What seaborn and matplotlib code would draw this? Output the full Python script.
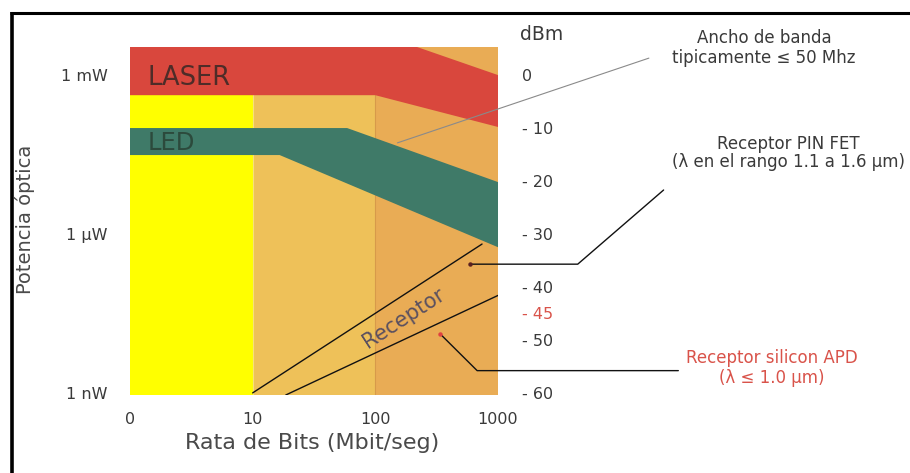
import numpy as np
import pandas as pd
import matplotlib
matplotlib.use("Agg")
import matplotlib.pyplot as plt
from matplotlib.lines import Line2D
import seaborn as sns

# ---------------- data ----------------
x_ticks = [0, 1, 2, 3]
x_ticklabels = ["0", "10", "100", "1000"]
left_ticks = [0, -30, -60]
left_ticklabels = ["1 mW", "1 \u00b5W", "1 nW"]
dbm_ticks = [0, -10, -20, -30, -40, -45, -50, -60]
dbm_ticklabels = ["0", "- 10", "- 20", "- 30", "- 40", "- 45", "- 50", "- 60"]

# region spans (decade index: 0 -> 0, 1 -> 10, 2 -> 100, 3 -> 1000 Mbit/s)
zone_start = [0, 1, 2]
zone_end = [1, 2, 3]
zone_colors = ["#FFFF00", "#EEC159", "#E9AC55"]

laser_top_u = [0, 2.34, 3]
laser_top_dbm = [5.3, 5.3, 0]
laser_bot_u = [0, 2.0, 3]
laser_bot_dbm = [-3.8, -3.8, -9.8]

led_top_u = [0, 1.77, 3]
led_top_dbm = [-10.0, -10.0, -20.2]
led_bot_u = [0, 1.22, 3]
led_bot_dbm = [-15.1, -15.1, -32.5]

rx_pin_u = [1.0, 2.87]
rx_pin_dbm = [-60.0, -31.9]
rx_apd_u = [1.27, 3.0]
rx_apd_dbm = [-60.4, -41.6]

# leader lines (data coords, extending outside the axes)
lead_band_u = [2.18, 4.23]
lead_band_dbm = [-12.8, 3.2]
lead_pin_u = [4.35, 3.65, 2.77]
lead_pin_dbm = [-21.7, -35.7, -35.7]
lead_apd_u = [4.47, 2.83, 2.53]
lead_apd_dbm = [-55.8, -55.8, -48.9]

# ---------------- style ----------------
sns.set_theme(style="white")
plt.rcParams["font.family"] = ["DejaVu Sans"]

W, H = 910, 473
fig = plt.figure(figsize=(W / 100, H / 100), dpi=100)
fig.patch.set_facecolor("white")


def fx(px):
    return px / W


def fy(py):
    return 1 - py / H


ax = fig.add_axes([fx(130), fy(395), fx(498) - fx(130), fy(47) - fy(395)])
ax.set_xlim(0, 3)
ax.set_ylim(-60.4, 5.3)

# background zones
for s, e, c in zip(zone_start, zone_end, zone_colors):
    ax.axvspan(s, e, color=c, lw=0, zorder=0)
ax.axvline(2, color="#D79A4A", lw=0.8, zorder=0.5)
ax.axvline(1, color="#F7E07A", lw=0.8, zorder=0.5)

# LASER band
ax.fill(laser_top_u + laser_bot_u[::-1], laser_top_dbm + laser_bot_dbm[::-1],
        color="#D9473D", lw=0, zorder=1)
# LED band
ax.fill(led_top_u + led_bot_u[::-1], led_top_dbm + led_bot_dbm[::-1],
        color="#3F7A68", lw=0, zorder=1)

# receptor lines
df_rx = pd.DataFrame({
    "u": rx_pin_u + rx_apd_u,
    "dbm": rx_pin_dbm + rx_apd_dbm,
    "rx": ["PIN"] * len(rx_pin_u) + ["APD"] * len(rx_apd_u),
})
sns.lineplot(data=df_rx, x="u", y="dbm", units="rx", estimator=None,
             color="#111111", lw=1.0, ax=ax, zorder=2, legend=False)

# texts inside
ax.text(0.14, -0.6, "LASER", fontsize=18.5, color="#4E2C28", va="center", ha="left", zorder=3)
ax.text(0.14, -12.9, "LED", fontsize=17.5, color="#2C4A3C", va="center", ha="left", zorder=3)
ax.text(2.23, -45.8, "Receptor", fontsize=15, color="#5A5060", rotation=33,
        ha="center", va="center", rotation_mode="anchor", zorder=3)

# axes styling
for sp in ax.spines.values():
    sp.set_visible(False)
ax.set_xticks(x_ticks, x_ticklabels)
ax.set_yticks(left_ticks, left_ticklabels)
ax.tick_params(axis="x", length=0, pad=12, labelsize=11.5, labelcolor="#3A3A3A")
ax.tick_params(axis="y", length=0, pad=16, labelsize=11.5, labelcolor="#3A3A3A")
ax.set_xlabel("")
ax.set_ylabel("")
fig.text(fx(312), fy(443), "Rata de Bits (Mbit/seg)", fontsize=16, color="#4A4A4A",
         ha="center", va="center")
fig.text(fx(25), fy(219), "Potencia \u00f3ptica", fontsize=14, color="#4A4A4A",
         ha="center", va="center", rotation=90)

ax2 = ax.twinx()
ax2.set_ylim(ax.get_ylim())
ax2.set_yticks(dbm_ticks, dbm_ticklabels)
ax2.tick_params(axis="y", length=0, pad=17, labelsize=11.5, labelcolor="#3A3A3A")
for lab, t in zip(ax2.get_yticklabels(), dbm_ticklabels):
    if t == "- 45":
        lab.set_color("#D9534A")
for sp in ax2.spines.values():
    sp.set_visible(False)
fig.text(fx(520), fy(35), "dBm", fontsize=13.5, color="#3A3A3A", ha="left", va="center")

# leader lines
ax.plot(lead_band_u, lead_band_dbm, color="#8A8A8A", lw=0.8, clip_on=False, zorder=4)
ax.plot(lead_pin_u, lead_pin_dbm, color="#111111", lw=1.0, clip_on=False, zorder=4)
ax.plot(lead_apd_u, lead_apd_dbm, color="#111111", lw=1.0, clip_on=False, zorder=4)
ax.plot([lead_pin_u[-1]], [lead_pin_dbm[-1]], "o", ms=2.2, color="#5A2020", zorder=4)
ax.plot([lead_apd_u[-1]], [lead_apd_dbm[-1]], "o", ms=2.2, color="#E04040", zorder=4)

# annotations
fig.text(fx(764), fy(48), "Ancho de banda\ntipicamente \u2264 50 Mhz", fontsize=12,
         color="#3A3A3A", ha="center", va="center", linespacing=1.15)
fig.text(fx(788), fy(153), "Receptor PIN FET\n(\u03bb en el rango 1.1 a 1.6 \u00b5m)", fontsize=12,
         color="#3A3A3A", ha="center", va="center", linespacing=1.0)
fig.text(fx(772), fy(368), "Receptor silicon APD\n(\u03bb \u2264 1.0 \u00b5m)", fontsize=12,
         color="#D9534A", ha="center", va="center", linespacing=1.2)

# frame lines (top and left)
fig.add_artist(Line2D([fx(10), 1], [fy(13), fy(13)], color="black", lw=2.2,
                      transform=fig.transFigure, solid_capstyle="butt"))
fig.add_artist(Line2D([fx(11.5), fx(11.5)], [0, fy(12)], color="black", lw=2.6,
                      transform=fig.transFigure, solid_capstyle="butt"))

fig.savefig("out.png", dpi=100)
